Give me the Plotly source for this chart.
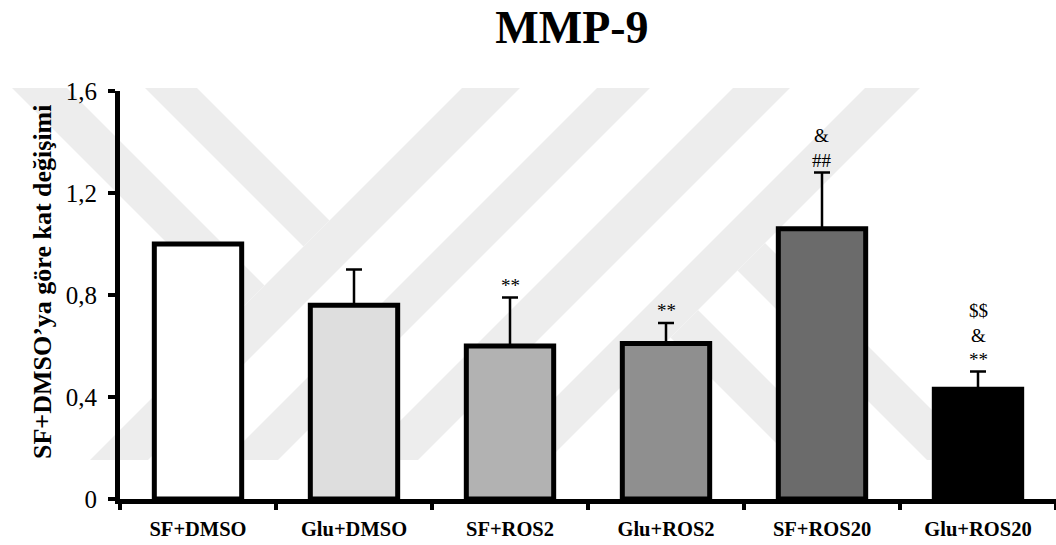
import plotly.graph_objects as go

# Group labels, mean fold change and upper SD
groups = ["SF+DMSO", "Glu+DMSO", "SF+ROS2", "Glu+ROS2", "SF+ROS20", "Glu+ROS20"]
fold_change = [1.00, 0.76, 0.60, 0.61, 1.06, 0.43]
sd_upper = [0.00, 0.14, 0.19, 0.08, 0.22, 0.07]
significance = ["", "", "**", "**", "&<br>##", "$$<br>&<br>**"]

bar_fills = ["#ffffff", "#dedede", "#b2b2b2", "#8f8f8f", "#6b6b6b", "#000000"]

y_ticks = [0, 0.4, 0.8, 1.2, 1.6]
y_tick_text = ["0", "0,4", "0,8", "1,2", "1,6"]

W, H = 1056, 545
ML, MR, MT, MB = 120, 0, 91, 46
PW, PH = W - ML - MR, H - MT - MB

SERIF = "Liberation Serif, Times New Roman, serif"


def to_paper(px, py):
    return (px - ML) / PW, (H - MB - py) / PH


def band_path(points):
    pts = [to_paper(px, py) for px, py in points]
    return "M " + " L ".join(f"{x:.5f},{y:.5f}" for x, y in pts) + " Z"


# Light background emblem: diagonal bands
emblem = [
    [(462, 88), (520, 88), (148, 460), (90, 460)],
    [(597, 88), (650, 88), (278, 460), (225, 460)],
    [(733, 88), (790, 88), (418, 460), (361, 460)],
    [(865, 88), (920, 88), (548, 460), (493, 460)],
    [(145, 88), (197, 88), (329.5, 220.5), (303.5, 246.5)],
    [(12, 88), (67, 88), (264.5, 285.5), (237, 313)],
    [(765, 243), (737.5, 270.5), (927, 460), (982, 460)],
    [(698, 310), (670.5, 337.5), (793, 460), (848, 460)],
]

fig = go.Figure()

fig.add_trace(go.Bar(
    x=groups,
    y=fold_change,
    width=0.56,
    marker=dict(color=bar_fills, line=dict(color="#000000", width=5)),
    error_y=dict(
        type="data",
        symmetric=False,
        array=sd_upper,
        arrayminus=[0] * len(sd_upper),
        color="#000000",
        thickness=2.5,
        width=8,
    ),
    showlegend=False,
    hoverinfo="skip",
))

shapes = [
    dict(type="path", path=band_path(p), xref="paper", yref="paper",
         fillcolor="#ededed", line=dict(width=0), layer="below")
    for p in emblem
]

annotations = []
for g, v, e, s in zip(groups, fold_change, sd_upper, significance):
    if not s:
        continue
    annotations.append(dict(
        x=g, y=v + e, xref="x", yref="y",
        text=s, showarrow=False,
        xanchor="center", yanchor="bottom", yshift=0,
        font=dict(family=SERIF, size=19, color="#000000"),
    ))

annotations.append(dict(
    x=to_paper(42, 0)[0], y=to_paper(0, 282)[1], xref="paper", yref="paper",
    text="<b>SF+DMSO’ya göre kat değişimi</b>", textangle=-90,
    showarrow=False, xanchor="center", yanchor="middle",
    font=dict(family=SERIF, size=26, color="#000000"),
))

fig.update_layout(
    width=W, height=H,
    margin=dict(l=ML, r=MR, t=MT, b=MB),
    paper_bgcolor="#ffffff",
    plot_bgcolor="rgba(0,0,0,0)",
    title=dict(
        text="<b>MMP-9</b>",
        xref="container", yref="container",
        x=572 / W, y=1 - 27 / H, xanchor="center", yanchor="middle",
        font=dict(family=SERIF, size=46, color="#000000"),
    ),
    shapes=shapes,
    annotations=annotations,
    bargap=0.44,
)

fig.update_xaxes(
    type="category",
    range=[-0.5, 5.5],
    showline=True, linecolor="#000000", linewidth=5,
    ticks="outside", tickson="boundaries", ticklen=6, tickwidth=4, tickcolor="#000000",
    ticklabelstandoff=7,
    tickfont=dict(family=SERIF, size=20.5, color="#000000", weight="bold"),
    showgrid=False, zeroline=False, fixedrange=True,
)

fig.update_yaxes(
    range=[0, 1.6],
    tickvals=y_ticks, ticktext=y_tick_text,
    showline=True, linecolor="#000000", linewidth=5,
    ticks="outside", ticklen=7, tickwidth=4, tickcolor="#000000",
    ticklabelstandoff=6,
    tickfont=dict(family=SERIF, size=25, color="#000000"),
    showgrid=False, zeroline=False, fixedrange=True,
)

fig.write_html("out.html", config={"displayModeBar": False})
